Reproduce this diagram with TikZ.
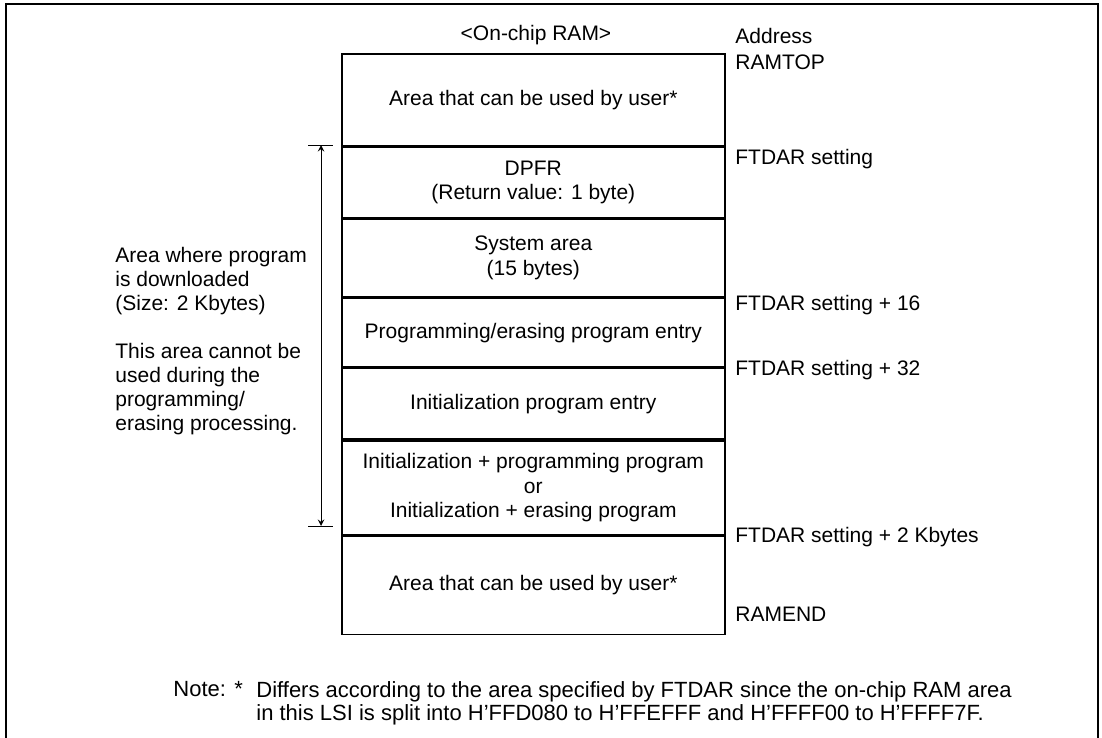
\documentclass[tikz,border=0pt]{standalone}
\usepackage{fontspec}
\setmainfont{Liberation Sans}
\usetikzlibrary{positioning}

\begin{document}
\begin{tikzpicture}[x=0.5pt, y=-0.5pt, >=stealth, font=\fontsize{10.5}{12.2}\selectfont,
	region/.style={draw, line width=0.8pt, minimum width=191.5pt, inner sep=0pt, align=center, anchor=north west},
	addr/.style={anchor=west, inner sep=0pt, align=left}]
		\useasboundingbox (0,0) rectangle (1102,738);
		% frame (open at the bottom)
		\draw[line width=1.1pt] (6,738) -- (6,4) -- (1098,4) -- (1098,738);
		% memory map
		\node (title) at (536,35) {<On-chip RAM>};
		\node[region, minimum height=46pt] (usrtop) at (341,53) {Area that can be used by user*};
		\node[region, minimum height=35pt] (dpfr) at (usrtop.south west) {DPFR\\(Return value: 1 byte)};
		\node[region, minimum height=39pt] (sysarea) at (dpfr.south west) {System area\\(15 bytes)};
		\node[region, minimum height=34pt] (pgmentry) at (sysarea.south west) {Programming/erasing program entry};
		\node[region, minimum height=35.5pt] (initentry) at (pgmentry.south west) {Initialization program entry};
		\node[region, minimum height=47pt] (dlprog) at (initentry.south west) {Initialization + programming program\\or\\Initialization + erasing program};
		\node[region, minimum height=49pt] (usrbot) at (dlprog.south west) {Area that can be used by user*};
		% addresses
		\node[addr] (addrhead) at (735,36) {Address};
		\node[addr] (ramtop) at (735,62) {RAMTOP};
		\node[addr] (ftdar) at (735,159) {FTDAR setting};
		\node[addr] (ftdarA) at (735,305) {FTDAR setting + 16};
		\node[addr] (ftdarB) at (735,370) {FTDAR setting + 32};
		\node[addr] (ftdarC) at (735,537) {FTDAR setting + 2 Kbytes};
		\node[addr] (ramend) at (735,614) {RAMEND};
		% download area
		\coordinate (dla) at (321,145);
		\coordinate (dlb) at (321,526);
		\draw[line width=0.45pt] ([xshift=-6.5pt]dla) -- ([xshift=6pt]dla);
		\draw[line width=0.45pt] ([xshift=-6.5pt]dlb) -- ([xshift=6pt]dlb);
		\draw[<->, line width=0.45pt] (dla) -- (dlb);
		\node[anchor=west, align=left, inner sep=0pt, font=\fontsize{10.5}{12}\selectfont] (dlnote) at (115,341) {Area where program\\is downloaded\\(Size: 2 Kbytes)\\[12pt]This area cannot be\\used during the\\programming/\\erasing processing.};
		% note
		\node[anchor=north west, inner sep=0pt, font=\fontsize{11}{11.6}\selectfont] (notehead) at (173,681) {Note:};
		\node[anchor=north west, inner sep=0pt, font=\fontsize{11}{11.6}\selectfont] (notemark) at (234,681) {*};
		\node[anchor=north west, inner sep=0pt, align=left, font=\fontsize{11}{11.6}\selectfont] (notetext) at (256,681) {Differs according to the area specified by FTDAR since the on-chip RAM area\\in this LSI is split into H'FFD080 to H'FFEFFF and H'FFFF00 to H'FFFF7F.};
	\end{tikzpicture}
\end{document}
